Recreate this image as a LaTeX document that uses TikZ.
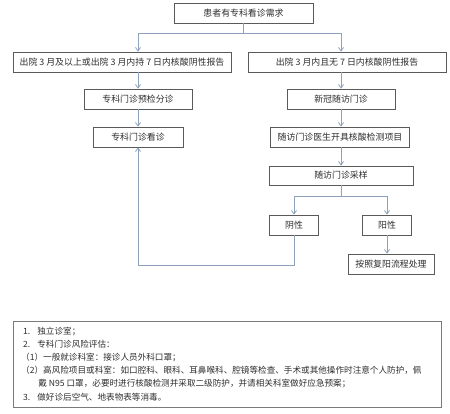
\documentclass[tikz,border=0pt]{standalone}
\usepackage{fontspec}
\setmainfont{Noto Sans CJK SC}
\usepackage{tikz}
\usetikzlibrary{arrows.meta,calc}
\definecolor{boxgray}{HTML}{5A5A5A}
\definecolor{linkblue}{HTML}{8FA2BC}
\definecolor{notegray}{HTML}{7A7A7A}
\definecolor{inkgray}{HTML}{2E2E2E}

\begin{document}
\begin{tikzpicture}[
    x=1pt, y=-1pt,
    every node/.style={inner sep=1pt, text=inkgray},
    flowbox/.style={draw=boxgray, line width=0.7pt, minimum height=20pt, font=\fontsize{8.9}{10}\selectfont, fill=white},
    link/.style={draw=linkblue, line width=0.8pt},
    linkarr/.style={link, -{Straight Barb[length=3.5pt, width=5pt]}}
]
\useasboundingbox (0,0) rectangle (450,414);
% left branch
\node[flowbox, minimum width=139pt] (need) at (243.5,13) {患者有专科看诊需求};
\node[flowbox, minimum width=218pt] (longago) at (122,62) {出院 3 月及以上或出院 3 月内持 7 日内核酸阴性报告};
\node[flowbox, minimum width=108pt] (triage) at (138,99) {专科门诊预检分诊};
\node[flowbox, minimum width=90pt] (visit) at (138,137) {专科门诊看诊};
% right branch
\node[flowbox, minimum width=198pt] (recent) at (347,62) {出院 3 月内且无 7 日内核酸阴性报告};
\node[flowbox, minimum width=108pt] (follow) at (341,99) {新冠随访门诊};
\node[flowbox, minimum width=139pt] (order) at (340,137) {随访门诊医生开具核酸检测项目};
\node[flowbox, minimum width=144pt, minimum height=19pt] (sample) at (341,175.5) {随访门诊采样};
\node[flowbox, minimum width=49pt] (neg) at (294,225) {阴性};
\node[flowbox, minimum width=49pt] (pos) at (387,225) {阳性};
\node[flowbox, minimum width=86pt] (retest) at (391,264) {按照复阳流程处理};

\coordinate (fork) at (243.5,33);
\coordinate (fork2) at (341,196);
\coordinate (back) at (138,265);

\draw[link] (need) -- (fork);
\draw[linkarr] (fork) -| (triage.north |- longago.north);
\draw[linkarr] (fork) -| (follow.north |- recent.north);
\draw[linkarr] (triage.north |- longago.south) -- (triage);
\draw[linkarr] (triage) -- (visit);
\draw[linkarr] (follow.north |- recent.south) -- (follow);
\draw[linkarr] (follow) -- (follow.south |- order.north);
\draw[linkarr] (follow.south |- order.south) -- (sample);
\draw[link] (sample) -- (fork2);
\draw[linkarr] (fork2) -| (neg);
\draw[linkarr] (fork2) -| (pos);
\draw[linkarr] (pos.south) -- (pos.south |- retest.north);
\draw[linkarr] (neg) |- (back) -- (visit);

% notes
\draw[notegray, line width=0.8pt] (13,321) rectangle (441,407);
\node[anchor=north west, align=left, font=\fontsize{8.6}{13.2}\selectfont] (notes) at (20,325.5) {%
\hspace*{2pt}1.\hspace{7pt}独立诊室；\\
\hspace*{2pt}2.\hspace{7pt}专科门诊风险评估：\\
（1）一般就诊科室：接诊人员外科口罩；\\
（2）高风险项目或科室：如口腔科、眼科、耳鼻喉科、腔镜等检查、手术或其他操作时注意个人防护，佩\\
\hspace*{2em}戴 N95 口罩，必要时进行核酸检测并采取二级防护，并请相关科室做好应急预案；\\
\hspace*{2pt}3.\hspace{7pt}做好诊后空气、地表物表等消毒。};
\end{tikzpicture}
\end{document}
